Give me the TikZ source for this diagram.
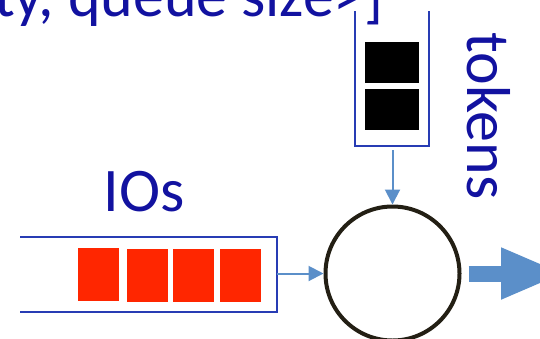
\documentclass[tikz,border=0pt]{standalone}
\usepackage{fontspec}
\setmainfont{Carlito}
\usetikzlibrary{arrows.meta}

\definecolor{textblue}{RGB}{18,18,160}
\definecolor{queueblue}{RGB}{40,60,180}
\definecolor{flowblue}{RGB}{91,143,201}
\definecolor{ioRed}{RGB}{255,38,0}
\definecolor{srvDark}{RGB}{35,31,20}

\begin{document}
\begin{tikzpicture}[x=1pt,y=-1pt]
		\tikzset{caption/.style = {text=textblue, inner sep=0pt, font=\fontsize{62}{70}\selectfont}}
		\tikzset{io/.style = {fill=ioRed, minimum width=41, minimum height=53, inner sep=0pt}}
		\tikzset{token/.style = {fill=black, minimum width=54, minimum height=41, inner sep=0pt}}
		\tikzset{flow/.style = {draw=flowblue, line width=2pt, -{Triangle[length=15pt,width=15pt]}}}

		\useasboundingbox (0,0) rectangle (540,338);
		\clip (0,0) rectangle (540,338);

		% server
		\node[circle, draw=srvDark, line width=4pt, minimum size=134, inner sep=0pt] (S) at (392.5,273.5) {};

		% IO queue, open on the left
		\draw[queueblue, line width=2pt] (20,237) -- (277,237) -- (277,312) -- (20,312);
		\node[io] (R_1) at (98.5,274) {};
		\node[io] (R_2) at (147.5,275) {};
		\node[io] (R_3) at (193.5,275) {};
		\node[io] (R_4) at (240.5,275) {};
		\coordinate (Q) at (277,273.5);

		% token bucket, open at the top
		\draw[queueblue, line width=2pt] (355,11) -- (355,146) -- (429,146) -- (429,11);
		\node[token] (T_1) at (392,62) {};
		\node[token] (T_2) at (392,109.5) {};
		\coordinate (B) at (392.5,150);

		\node[caption, anchor=base] (ios) at (144,211.5) {IOs};
		\node[caption, anchor=base, rotate=-90] (tok) at (467,116) {tokens};
		\node[caption, anchor=base east] (par) at (384,16) {ty, queue size>]};

		\draw[flow] (Q) -- (S.west);
		\draw[flow] (B) -- (S.north);

		% output
		\coordinate (O) at (565,273.5);
		\draw[flowblue, line width=16pt, shorten <=7pt, -{Triangle[length=64pt,width=47pt]}] (S.east) -- (O);

	\end{tikzpicture}
\end{document}
